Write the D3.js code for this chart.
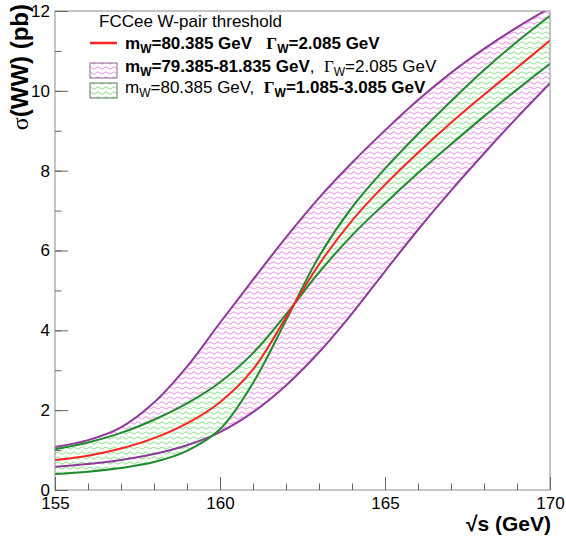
<!DOCTYPE html>
<html lang="en">
<head>
<meta charset="utf-8">
<title>FCCee W-pair threshold</title>
<script src="https://d3js.org/d3.v7.min.js"></script>
<style>
  body { margin: 0; background: #fff; }
  text { font-family: "Liberation Sans", Arial, sans-serif; fill: #000; white-space: pre; }
</style>
</head>
<body>
<script>
// centre-of-mass energy (GeV)
var sqrtS = [155, 156, 157, 158, 159, 160, 161, 162, 163, 164, 165, 166, 167, 168, 169, 170];
// sigma(WW) in pb
var sigmaNominal   = [0.75, 0.86, 1.04, 1.30, 1.67, 2.20, 3.02, 4.32, 5.65, 6.75, 7.65, 8.45, 9.20, 9.90, 10.58, 11.26];
var sigmaMassLow   = [1.08, 1.25, 1.57, 2.19, 3.09, 4.19, 5.27, 6.33, 7.32, 8.20, 9.01, 9.77, 10.45, 11.05, 11.59, 12.08];
var sigmaMassHigh  = [0.58, 0.65, 0.75, 0.90, 1.12, 1.45, 1.95, 2.62, 3.45, 4.42, 5.48, 6.52, 7.50, 8.43, 9.33, 10.19];
var sigmaWidthHigh = [1.02, 1.19, 1.43, 1.76, 2.17, 2.70, 3.43, 4.40, 5.45, 6.38, 7.18, 7.94, 8.66, 9.36, 10.03, 10.68];
var sigmaWidthLow  = [0.40, 0.46, 0.55, 0.70, 0.98, 1.52, 2.68, 4.25, 5.85, 7.08, 8.05, 8.92, 9.74, 10.52, 11.23, 11.88];

var xTicks = [155, 160, 165, 170];
var yTicks = [0, 2, 4, 6, 8, 10, 12];

var legendTitle = "FCCee W-pair threshold";

var W = 566, H = 542;
var x = d3.scaleLinear().domain([155, 170]).range([55, 550]);
var y = d3.scaleLinear().domain([0, 12]).range([490, 11]);

var svg = d3.select("body").append("svg").attr("width", W).attr("height", H);
var defs = svg.append("defs");

function wave(id, color, bg) {
  var p = defs.append("pattern").attr("id", id)
    .attr("patternUnits", "userSpaceOnUse").attr("width", 8).attr("height", 5);
  if (bg) p.append("rect").attr("width", 8).attr("height", 5).attr("fill", bg);
  p.append("path").attr("d", "M0,3 Q2,0.6 4,3 Q6,5.4 8,3")
    .attr("fill", "none").attr("stroke", color).attr("stroke-width", 0.9);
}
wave("pinkWave", "#ea80e6", null);
wave("greenWave", "#78dc78", "#fff");

defs.append("clipPath").attr("id", "frame").append("rect")
  .attr("x", 55).attr("y", 11).attr("width", 495).attr("height", 479);

var purple = "#8d3a9b", green = "#1f8a2e", red = "#ff2222";

var pts = sqrtS.map(function(s, i) {
  return {s: s, nom: sigmaNominal[i], mLo: sigmaMassLow[i], mHi: sigmaMassHigh[i],
          gHi: sigmaWidthHigh[i], gLo: sigmaWidthLow[i]};
});

var plot = svg.append("g").attr("clip-path", "url(#frame)");
var curve = d3.curveCatmullRom.alpha(0.5);

function band(a, b) {
  return d3.area().curve(curve)
    .x(function(d) { return x(d.s); })
    .y0(function(d) { return y(d[a]); })
    .y1(function(d) { return y(d[b]); });
}
function line(k) {
  return d3.line().curve(curve)
    .x(function(d) { return x(d.s); })
    .y(function(d) { return y(d[k]); });
}

plot.append("path").datum(pts).attr("d", band("mHi", "mLo")).attr("fill", "url(#pinkWave)");
plot.append("path").datum(pts).attr("d", band("gHi", "gLo")).attr("fill", "url(#greenWave)");

[["mLo", purple], ["mHi", purple], ["gHi", green], ["gLo", green], ["nom", red]].forEach(function(c) {
  plot.append("path").datum(pts).attr("d", line(c[0]))
    .attr("fill", "none").attr("stroke", c[1]).attr("stroke-width", 2);
});

// frame
svg.append("rect").attr("x", 55).attr("y", 11).attr("width", 495).attr("height", 479)
  .attr("fill", "none").attr("stroke", "#8c8c8c").attr("stroke-width", 1);

// axes, ticks pointing into the frame
svg.append("g").attr("transform", "translate(0,490)")
  .call(d3.axisBottom(x).tickValues(xTicks).tickSize(-13).tickPadding(7).tickFormat(d3.format("d")));
svg.append("g").attr("transform", "translate(0,490)")
  .call(d3.axisBottom(x).tickValues(d3.range(155, 171)).tickSize(-6.5).tickFormat(""));
svg.append("g").attr("transform", "translate(55,0)")
  .call(d3.axisLeft(y).tickValues(yTicks).tickSize(-13).tickPadding(5));
svg.append("g").attr("transform", "translate(55,0)")
  .call(d3.axisLeft(y).tickValues(d3.range(0, 13)).tickSize(-6.5).tickFormat(""));

svg.selectAll(".domain").remove();
svg.selectAll(".tick line").attr("stroke", "#666");
svg.selectAll(".tick text").attr("font-size", 17).attr("font-family", "Liberation Sans, Arial, sans-serif");

// axis titles
svg.append("text").attr("x", 551).attr("y", 531).attr("text-anchor", "end")
  .attr("font-size", 21).attr("font-weight", "bold").text("√s (GeV)");

var yt = svg.append("text").attr("transform", "translate(28,4) rotate(-90)")
  .attr("text-anchor", "end").attr("font-size", 24).attr("font-weight", "bold");
yt.append("tspan").attr("font-family", "Liberation Serif, serif").attr("font-weight", "normal").text("σ");
yt.append("tspan").text("(WW) (pb)");

// legend
function richText(xp, yp, parts) {
  var t = svg.append("text").attr("x", xp).attr("y", yp).attr("font-size", 17);
  parts.forEach(function(p) {
    var ts = t.append("tspan").text(p.t)
      .attr("font-weight", p.b ? "bold" : "normal");
    if (p.serif) ts.attr("font-family", "Liberation Serif, serif");
    if (p.sub) ts.attr("font-size", 12).attr("dy", 4);
    if (p.up) ts.attr("dy", -4);
  });
  return t;
}

svg.append("text").attr("x", 99).attr("y", 27).attr("font-size", 17).text(legendTitle);

svg.append("line").attr("x1", 90).attr("x2", 117).attr("y1", 43).attr("y2", 43)
  .attr("stroke", red).attr("stroke-width", 2.5);
richText(125, 49, [
  {t: "m", b: true}, {t: "W", b: true, sub: true}, {t: "=80.385 GeV   ", b: true, up: true},
  {t: "Γ", b: true, serif: true}, {t: "W", b: true, sub: true}, {t: "=2.085 GeV", b: true, up: true}
]);

svg.append("rect").attr("x", 90).attr("y", 63).attr("width", 27).attr("height", 15)
  .attr("fill", "url(#pinkWave)").attr("stroke", "#8a6a8e").attr("stroke-width", 1);
richText(125, 72, [
  {t: "m", b: true}, {t: "W", b: true, sub: true}, {t: "=79.385-81.835 GeV", b: true, up: true},
  {t: ",  "}, {t: "Γ", serif: true}, {t: "W", sub: true}, {t: "=2.085 GeV", up: true}
]);

svg.append("rect").attr("x", 90).attr("y", 83).attr("width", 27).attr("height", 15)
  .attr("fill", "url(#greenWave)").attr("stroke", "#5e7a5e").attr("stroke-width", 1);
richText(125, 93, [
  {t: "m"}, {t: "W", sub: true}, {t: "=80.385 GeV,  ", up: true},
  {t: "Γ", b: true, serif: true}, {t: "W", b: true, sub: true}, {t: "=1.085-3.085 GeV", b: true, up: true}
]);
</script>
</body>
</html>
